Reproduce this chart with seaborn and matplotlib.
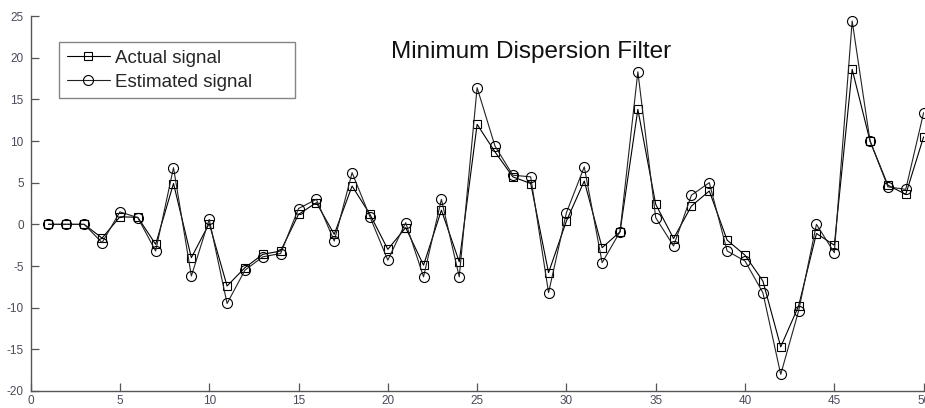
import matplotlib
matplotlib.use("Agg")
import matplotlib.pyplot as plt
import seaborn as sns
import pandas as pd
import numpy as np

# ---- data ----
samples = list(range(1, 51))
actual_signal = [0.0, 0.0, 0.0, -1.65, 0.9, 0.85, -2.4, 4.9, -4.0, 0.1,
                 -7.4, -5.2, -3.6, -3.2, 1.2, 2.6, -1.2, 4.6, 1.2, -3.0,
                 -0.4, -4.9, 1.7, -4.5, 12.0, 8.7, 5.7, 4.9, -5.8, 0.4,
                 5.2, -2.8, -0.9, 13.8, 2.4, -1.7, 2.2, 4.0, -1.9, -3.7,
                 -6.8, -14.7, -9.8, -1.1, -2.5, 18.6, 10.0, 4.7, 3.6, 10.5]
estimated_signal = [0.0, 0.0, 0.0, -2.2, 1.5, 0.8, -3.2, 6.8, -6.2, 0.6,
                    -9.5, -5.5, -3.9, -3.5, 1.9, 3.0, -2.0, 6.2, 0.9, -4.3,
                    0.2, -6.3, 3.0, -6.3, 16.4, 9.4, 5.9, 5.7, -8.2, 1.4,
                    6.9, -4.6, -0.9, 18.3, 0.8, -2.6, 3.5, 5.0, -3.2, -4.4,
                    -8.2, -18.0, -10.4, 0.0, -3.4, 24.4, 10.0, 4.5, 4.2, 13.4]
x_ticks = [0, 5, 10, 15, 20, 25, 30, 35, 40, 45, 50]
y_ticks = [-20, -15, -10, -5, 0, 5, 10, 15, 20, 25]
title_text = "Minimum Dispersion Filter"

df_actual = pd.DataFrame({"n": samples, "value": actual_signal})
df_est = pd.DataFrame({"n": samples, "value": estimated_signal})

sns.set_style("white")
plt.rcParams["font.family"] = ["Liberation Sans", "DejaVu Sans"]
plt.rcParams["axes.unicode_minus"] = False

fig = plt.figure(figsize=(9.25, 4.08), dpi=100)
ax = fig.add_axes([0.0331, 0.0417, 0.9654, 0.919])

sns.lineplot(data=df_actual, x="n", y="value", ax=ax, color="black",
             linewidth=0.8, marker="s", markersize=6.2,
             markerfacecolor="none", markeredgecolor="black",
             markeredgewidth=0.8, label="Actual signal")
sns.lineplot(data=df_est, x="n", y="value", ax=ax, color="#222222",
             linewidth=0.8, marker="o", markersize=7.2,
             markerfacecolor="none", markeredgecolor="black",
             markeredgewidth=0.8, label="Estimated signal")

ax.set_xlim(0, 50)
ax.set_ylim(-20, 25)
ax.set_xticks(x_ticks)
ax.set_yticks(y_ticks)
ax.set_xlabel("")
ax.set_ylabel("")

for side in ["top", "right"]:
    ax.spines[side].set_visible(False)
for side in ["left", "bottom"]:
    ax.spines[side].set_color("#555555")
    ax.spines[side].set_linewidth(1.0)

ax.tick_params(axis="both", direction="in", length=6, width=0.9,
               colors="#555555", labelsize=8.5, labelcolor="#4a4a5a",
               bottom=True, left=True, top=False, right=False)
ax.tick_params(axis="y", pad=5)
ax.tick_params(axis="x", pad=3)

ax.text(0.560, 0.904, title_text, transform=ax.transAxes, ha="center",
        va="center", fontsize=17.5, color="#111111")

leg = ax.legend(loc="upper left", bbox_to_anchor=(0.0318, 0.5, 0.2643, 0.431),
                mode="expand", borderaxespad=0, fontsize=13.5, frameon=True,
                fancybox=False, handlelength=2.3, handletextpad=0.3,
                labelspacing=0.38, borderpad=0.4)
leg.get_frame().set_edgecolor("#666666")
leg.get_frame().set_linewidth(1.0)

fig.savefig("out.png", dpi=100, facecolor="white")
